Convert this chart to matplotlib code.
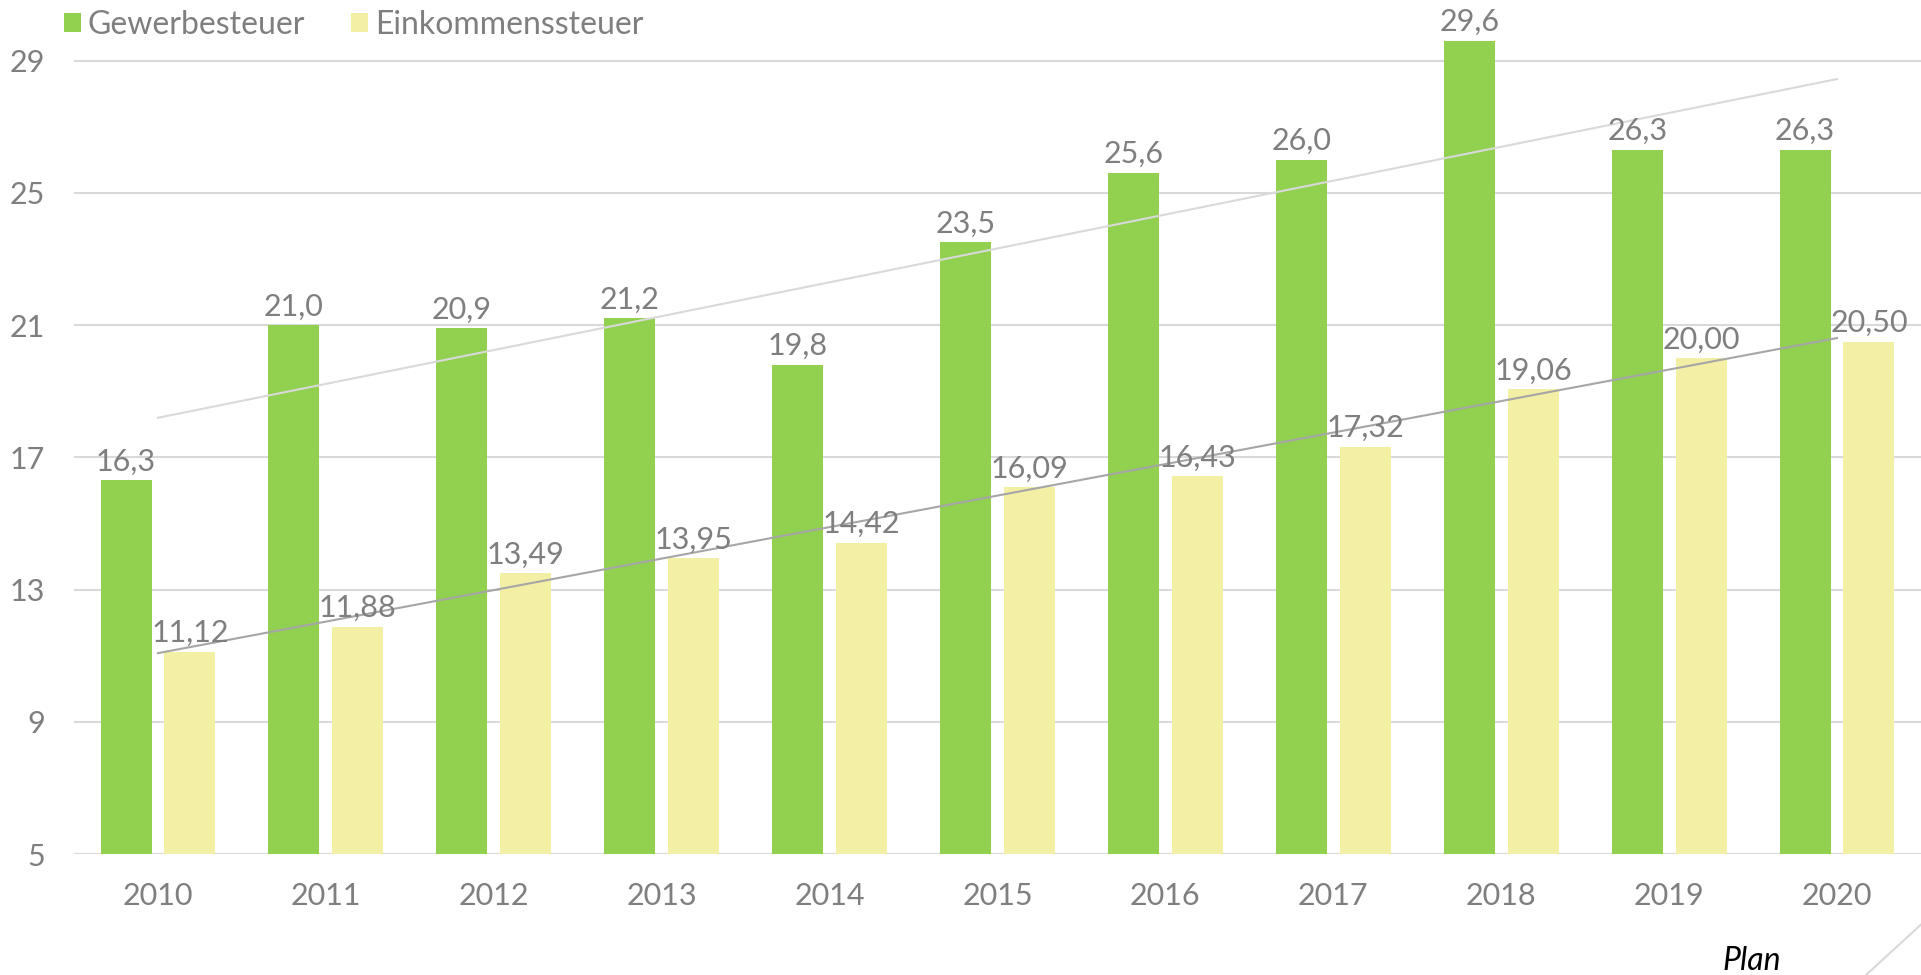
import numpy as np
import matplotlib.pyplot as plt
from matplotlib.lines import Line2D

plt.rcParams['font.family'] = ['Lato', 'DejaVu Sans']

jahre = ['2010', '2011', '2012', '2013', '2014', '2015', '2016', '2017', '2018', '2019', '2020']
gewerbe = [16.3, 21.0, 20.9, 21.2, 19.8, 23.5, 25.6, 26.0, 29.6, 26.3, 26.3]
einkommen = [11.12, 11.88, 13.49, 13.95, 14.42, 16.09, 16.43, 17.32, 19.06, 20.00, 20.50]

gruen = '#92D050'
gelb = '#F3F0A5'
grau = '#7F7F7F'

fig = plt.figure(figsize=(19.21, 9.75), dpi=100)
ax = fig.add_axes([74 / 1921, 121 / 975, 1847 / 1921, 843 / 975])

x = np.arange(len(jahre))
w = 0.304
off = 0.19
b1 = ax.bar(x - off, np.array(gewerbe) - 5, w, bottom=5, color=gruen, zorder=2, label='Gewerbesteuer')
b2 = ax.bar(x + off, np.array(einkommen) - 5, w, bottom=5, color=gelb, zorder=2, label='Einkommenssteuer')

# Beschriftungen
for xi, v in zip(x, gewerbe):
    ax.annotate(f'{v:.1f}'.replace('.', ','), (xi - off, v), xytext=(0, 7), textcoords='offset points',
                ha='center', va='baseline', fontsize=22, color=grau, zorder=4)
for xi, v in zip(x, einkommen):
    ax.annotate(f'{v:.2f}'.replace('.', ','), (xi + off, v), xytext=(0, 7), textcoords='offset points',
                ha='center', va='baseline', fontsize=22, color=grau, zorder=4)

# lineare Trendlinien
m1, c1 = np.polyfit(x, gewerbe, 1)
m2, c2 = np.polyfit(x, einkommen, 1)
ax.plot(x, m1 * x + c1, color='#D9D9D9', lw=1.5, zorder=3)
ax.plot(x, m2 * x + c2, color='#A6A6A6', lw=1.5, zorder=3)

ax.set_xlim(-0.5, len(jahre) - 0.5)
ax.set_ylim(5, 30.5)
ax.set_yticks(range(5, 30, 4))
ax.set_xticks(x)
ax.set_xticklabels(jahre)
ax.grid(axis='y', color='#D9D9D9', lw=1.5, zorder=0)
ax.tick_params(axis='both', length=0, labelsize=22, labelcolor=grau)
ax.tick_params(axis='x', pad=20)
ax.tick_params(axis='y', pad=21)
for s in ax.spines.values():
    s.set_visible(False)

fig.legend(handles=[b1, b2], loc='upper left', bbox_to_anchor=(64 / 1921, 1 - 10 / 975), ncol=2,
           frameon=False, fontsize=23, labelcolor=grau, handlelength=0.52, handleheight=0.52,
           handletextpad=0.22, columnspacing=1.45, borderpad=0, borderaxespad=0)

fig.text(1752 / 1921, 5 / 975, 'Plan', fontsize=23, style='italic', color='black', ha='center', va='baseline')
fig.add_artist(Line2D([1866 / 1921, 1 + 5 / 1921], [0, 55 / 975], color='#D9D9D9', lw=1.5,
                      transform=fig.transFigure))

fig.savefig('out.png', dpi=100)
